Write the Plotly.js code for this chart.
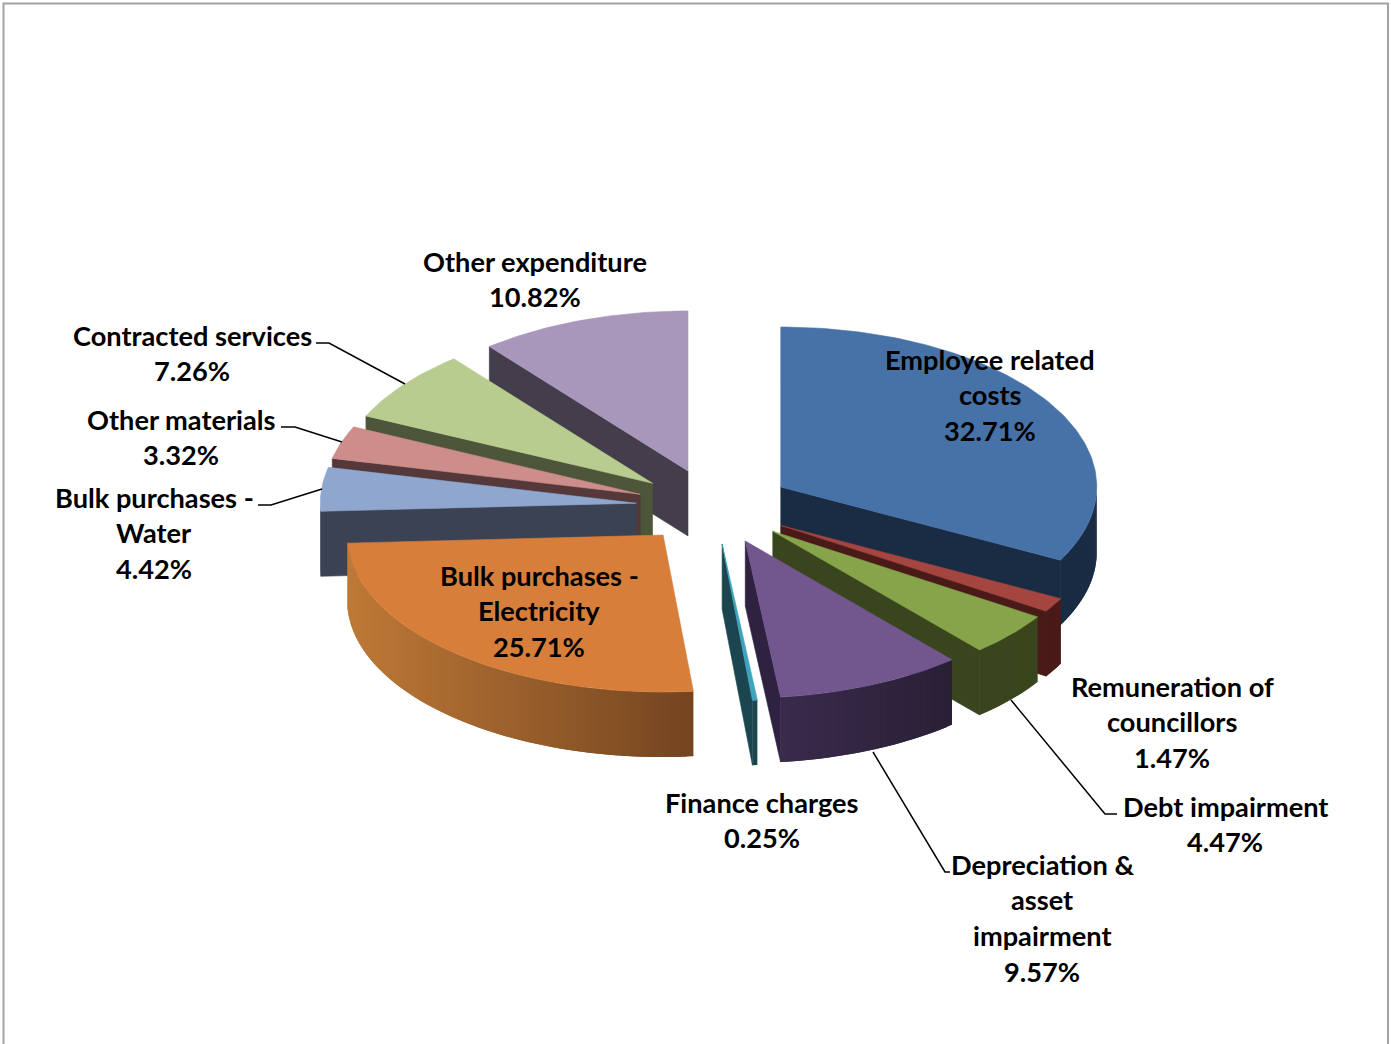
<!DOCTYPE html>
<html>
<head>
<meta charset="utf-8">
<title>Operating expenditure by category</title>
<script src="https://cdn.plot.ly/plotly-3.0.1.min.js"></script>
<style>html,body{margin:0;padding:0;background:#fff}#chart{width:1391px;height:1044px}</style>
</head>
<body>
<div id="chart"></div>
<script>
// Expenditure categories, clockwise from twelve o'clock
const categories = ["Employee related costs", "Remuneration of councillors", "Debt impairment",
  "Depreciation & asset impairment", "Finance charges", "Bulk purchases - Electricity",
  "Bulk purchases - Water", "Other materials", "Contracted services", "Other expenditure"];
const shares = [32.71, 1.47, 4.47, 9.57, 0.25, 25.71, 4.42, 3.32, 7.26, 10.82];

// Face colours of each slice; outer walls shade from left to right
const topColors = ["#4672A8", "#A5453F", "#86A44A", "#72568E", "#3EA3BC", "#D77E3A", "#8FA7CE", "#CC8D8B", "#B8CC90", "#A897BB"];
const cutColors = ["#1A2C44", "#4A1A18", "#39451C", "#2F2240", "#1B4650", "#7A4A20", "#3A4254", "#54383A", "#4D5638", "#433D4C"];
const wallLeft  = ["#1A2C44", "#4A1A18", "#39451C", "#3A2A4C", "#1B4650", "#BE7937", "#3A4254", "#54383A", "#4D5638", "#433D4C"];
const wallRight = ["#1A2C44", "#4A1A18", "#39451C", "#292035", "#1B4650", "#744520", "#3A4254", "#54383A", "#4D5638", "#433D4C"];

// Label text, one entry per line with its anchor
const labelLines = [
  ["Other expenditure", "10.82%"], ["Contracted services", "7.26%"], ["Other materials", "3.32%"],
  ["Bulk purchases -", "Water", "4.42%"], ["Employee related", "costs", "32.71%"],
  ["Bulk purchases -", "Electricity", "25.71%"], ["Remuneration of", "councillors", "1.47%"],
  ["Debt impairment", "4.47%"], ["Depreciation &", "asset", "impairment", "9.57%"], ["Finance charges", "0.25%"]
];
const labelX = [535, 192, 181, 154, 990, 539, 1172, 1225, 1042, 762];
const labelY = [261, 335, 419, 497, 359, 575, 686, 806, 864, 802];
const lineGap = 35.7;

// Leader lines as x/y polylines
const leaderX = [[316, 329, 405], [281, 295, 342], [258, 271, 322], [1117, 1105, 1011], [950, 945, 873]];
const leaderY = [[343, 343, 384], [427, 427, 442], [505, 505, 489], [814, 814, 700], [872, 872, 752]];

// Projection of the tilted pie: the near half is foreshortened a little more
const cx = 714, cy = 506.5, rx = 316, ryBack = 160, ryFront = 157, pullX = 78, pullY = 37.7, depth = 65;
const rad = d => d * Math.PI / 180;
const hexMix = (a, b, t) => {
  const p = s => [1, 3, 5].map(i => parseInt(s.substr(i, 2), 16));
  const A = p(a), B = p(b);
  return "rgb(" + A.map((v, i) => Math.round(v + (B[i] - v) * t)).join(",") + ")";
};
const polygon = (xs, ys, color, name, stroke) => ({
  type: "scatter", mode: "lines", x: xs, y: ys, fill: "toself", fillcolor: color,
  line: {color: color, width: stroke}, hoverinfo: "skip", showlegend: false, name: name
});

// Angular extent and exploded apex of every slice
let running = 0;
const slices = shares.map((s, i) => {
  const a0 = running * 3.6; running += s;
  const a1 = running * 3.6, mid = (a0 + a1) / 2;
  return {i, a0, a1, ax: cx + pullX * Math.sin(rad(mid)), ay: cy - pullY * Math.cos(rad(mid))};
});

const traces = [];
// Back slices first so nearer ones paint over them
[...slices].sort((p, q) => p.ay - q.ay).forEach(sl => {
  const {i, a0, a1, ax, ay} = sl;
  const px = a => ax + rx * Math.sin(rad(a));
  const py = a => {
    const c = Math.cos(rad(a));
    return ay - (c > 0 ? ryBack : ryFront) * c;
  };
  const name = categories[i];

  // Radial cut faces that turn towards the viewer
  [[a0, Math.sin(rad(a0)) < -1e-6], [a1, Math.sin(rad(a1)) > 1e-6]].forEach(([a, seen]) => {
    if (seen) traces.push(polygon([ax, px(a), px(a), ax, ax], [ay, py(a), py(a) + depth, ay + depth, ay], cutColors[i], name, 0.6));
  });

  // Outer wall in narrow bands for the shading; each band runs under the next to avoid seams
  const from = Math.max(a0, 90), to = Math.min(a1, 270);
  if (to > from) {
    const n = Math.ceil((to - from) / 1.2);
    const xl = Math.min(px(from), px(to)), xr = Math.max(px(from), px(to));
    const order = [...Array(n).keys()];
    order.forEach(k => {
      const b0 = from + (to - from) * k / n;
      const bEnd = from + (to - from) * Math.min(k + 2, n) / n;
      const arc = [];
      for (let m = 0; m <= 4; m++) arc.push(b0 + (bEnd - b0) * m / 4);
      const xs = arc.map(px).concat(arc.slice().reverse().map(px));
      const ys = arc.map(py).concat(arc.slice().reverse().map(a => py(a) + depth));
      const t = (px(from + (to - from) * (k + 0.5) / n) - xl) / Math.max(xr - xl, 1);
      traces.push(polygon(xs, ys, hexMix(wallLeft[i], wallRight[i], t), name, 0));
    });
  }

  // Top face
  const xs = [ax], ys = [ay], steps = Math.max(2, Math.ceil(a1 - a0));
  for (let k = 0; k <= steps; k++) {
    const a = a0 + (a1 - a0) * k / steps;
    xs.push(px(a)); ys.push(py(a));
  }
  xs.push(ax); ys.push(ay);
  traces.push(polygon(xs, ys, topColors[i], name, 0.6));
});

leaderX.forEach((xs, i) => traces.push({
  type: "scatter", mode: "lines", x: xs, y: leaderY[i], line: {color: "#000", width: 1.5},
  hoverinfo: "skip", showlegend: false
}));

const annotations = [];
labelLines.forEach((lines, i) => lines.forEach((text, k) => annotations.push({
  x: labelX[i], y: labelY[i] + k * lineGap, xref: "x", yref: "y", text, showarrow: false,
  xanchor: "center", yanchor: "middle",
  font: {family: "Lato, Carlito, sans-serif", size: 27.2, color: "#000", weight: 700}
})));

const layout = {
  width: 1391, height: 1044, margin: {l: 0, r: 0, t: 0, b: 0},
  paper_bgcolor: "#fff", plot_bgcolor: "#fff", showlegend: false,
  xaxis: {range: [0, 1391], visible: false, fixedrange: true},
  yaxis: {range: [1044, 0], visible: false, fixedrange: true},
  annotations,
  shapes: [{type: "path", path: "M3.5,1044 L3.5,3.5 L1388,3.5 L1388,1044", xref: "x", yref: "y",
    line: {color: "#A3A3A3", width: 2}}]
};
Plotly.newPlot("chart", traces, layout, {displayModeBar: false, staticPlot: true});
</script>
</body>
</html>
